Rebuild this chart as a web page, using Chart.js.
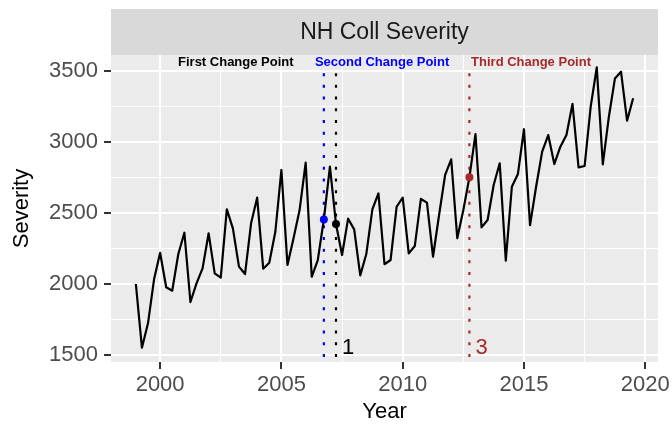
<!DOCTYPE html>
<html>
<head>
<meta charset="utf-8">
<script src="https://cdn.jsdelivr.net/npm/chart.js@4/dist/chart.umd.min.js"></script>
<style>
  html, body { margin: 0; padding: 0; background: #ffffff; }
  #wrap { width: 672px; height: 426px; position: relative; }
</style>
</head>
<body>
<div id="wrap"><canvas id="severityChart"></canvas></div>
<script>
// NH Coll Severity - quarterly series with change points

// severity, one value per quarter starting 1999 Q1
const severity = [
  2000, 1551, 1723, 2033, 2220, 1977, 1953, 2211, 2361, 1873,
  2005, 2110, 2357, 2075, 2045, 2526, 2392, 2122, 2070, 2427,
  2608, 2108, 2150, 2368, 2803, 2134, 2322, 2521, 2855, 2051,
  2169, 2455, 2826, 2423, 2204, 2460, 2385, 2061, 2211, 2526,
  2638, 2139, 2169, 2544, 2608, 2216, 2268, 2599, 2573, 2192,
  2486, 2768, 2878, 2322, 2521, 2751, 3056, 2399, 2451, 2697,
  2850, 2164, 2685, 2775, 3090, 2415, 2685, 2932, 3049, 2845,
  2967, 3049, 3268, 2821, 2831, 3249, 3526, 2843, 3178, 3448,
  3495, 3150, 3308
];
const startYear = 1999;
const quarters = severity.map((_, i) => startYear + i * 0.25);

// change points
const cpYears = [2007.25, 2006.75, 2012.75];
const cpNames = ['First Change Point', 'Second Change Point', 'Third Change Point'];
const cpTags = ['1', '', '3'];
const cpColors = ['#000000', '#0000FF', '#A52A2A'];
const cpNameX = [2003.12, 2009.15, 2015.29];
const cpNameY = 3563;
const cpTagY = 1549;
const cpLineTop = 3485;

// axes
const xTicks = [2000, 2002.5, 2005, 2007.5, 2010, 2012.5, 2015, 2017.5, 2020];
const yTicks = [1500, 1750, 2000, 2250, 2500, 2750, 3000, 3250, 3500];
const xMin = 1997.975, xMax = 2020.525;
const yMin = 1450.7, yMax = 3612.7;

const FONT = '"Liberation Sans", Arial, Helvetica, sans-serif';

const seriesPoints = quarters.map((q, i) => ({ x: q, y: severity[i] }));
const cpPoints = cpYears.map(cp => ({ x: cp, y: severity[quarters.indexOf(cp)] }));

// dotted verticals, drawn from the top down
const vlineSets = cpYears.map((cp, i) => ({
    label: cpNames[i],
    data: [{ x: cp, y: cpLineTop }, { x: cp, y: yMin }],
    borderColor: cpColors[i],
    borderWidth: 2.2,
    borderDash: [3, 8.7],
    borderCapStyle: 'butt',
    pointRadius: 0,
    fill: false
}));

// panel background + facet strip
const panelPlugin = {
    id: 'panel',
    beforeDraw(chart) {
        const { ctx, chartArea: a } = chart;
        ctx.save();
        ctx.fillStyle = '#EBEBEB';
        ctx.fillRect(a.left, a.top, a.right - a.left, a.bottom - a.top);
        ctx.fillStyle = '#D9D9D9';
        ctx.fillRect(a.left, 9, a.right - a.left, a.top - 9);
        ctx.fillStyle = '#1A1A1A';
        ctx.font = '23px ' + FONT;
        ctx.textAlign = 'center';
        ctx.textBaseline = 'middle';
        ctx.fillText('NH Coll Severity', (a.left + a.right) / 2, (9 + a.top) / 2 + 1);
        ctx.restore();
    }
};

// change point names and tags
const textPlugin = {
    id: 'cpText',
    afterDatasetsDraw(chart) {
        const { ctx, scales: { x, y } } = chart;
        ctx.save();
        ctx.textBaseline = 'middle';
        cpYears.forEach((cp, i) => {
            ctx.fillStyle = cpColors[i];
            ctx.font = 'bold 13px ' + FONT;
            ctx.textAlign = 'center';
            ctx.fillText(cpNames[i], x.getPixelForValue(cpNameX[i]), y.getPixelForValue(cpNameY));
            if (cpTags[i]) {
                ctx.font = '22px ' + FONT;
                ctx.textAlign = 'left';
                ctx.fillText(cpTags[i], x.getPixelForValue(cp) + 6, y.getPixelForValue(cpTagY));
            }
        });
        ctx.restore();
    }
};

function isMajor(value, step) {
    return Math.abs(value / step - Math.round(value / step)) < 1e-6;
}

new Chart(document.getElementById('severityChart'), {
    type: 'line',
    data: {
        datasets: [{
            label: 'Change points',
            data: cpPoints,
            showLine: false,
            pointRadius: 4,
            pointBackgroundColor: cpColors,
            pointBorderColor: cpColors,
            pointBorderWidth: 0
        }, {
            label: 'Severity',
            data: seriesPoints,
            borderColor: '#000000',
            borderWidth: 2.2,
            borderJoinStyle: 'round',
            pointRadius: 0,
            tension: 0,
            fill: false
        }].concat(vlineSets)
    },
    options: {
        responsive: true,
        maintainAspectRatio: false,
        animation: false,
        layout: { padding: { top: 55, right: 14, left: 0, bottom: 0 } },
        plugins: {
            legend: { display: false },
            tooltip: { enabled: false }
        },
        scales: {
            x: {
                type: 'linear',
                min: xMin,
                max: xMax,
                afterBuildTicks: scale => { scale.ticks = xTicks.map(v => ({ value: v })); },
                afterFit: scale => {
                    scale.height = 64;
                    scale.paddingLeft = 0;
                    scale.paddingRight = 0;
                },
                border: { display: false },
                grid: {
                    color: '#FFFFFF',
                    lineWidth: c => isMajor(c.tick.value, 5) ? 2 : 1,
                    tickColor: c => isMajor(c.tick.value, 5) ? '#333333' : 'rgba(0,0,0,0)',
                    tickWidth: 2,
                    tickLength: 7
                },
                ticks: {
                    autoSkip: false,
                    maxRotation: 0,
                    padding: 3,
                    color: '#4D4D4D',
                    font: { family: FONT, size: 22 },
                    callback: v => isMajor(v, 5) ? String(v) : ''
                },
                title: {
                    display: true,
                    text: 'Year',
                    color: '#000000',
                    font: { family: FONT, size: 22 },
                    padding: { top: 0, bottom: 1 }
                }
            },
            y: {
                type: 'linear',
                min: yMin,
                max: yMax,
                afterBuildTicks: scale => { scale.ticks = yTicks.map(v => ({ value: v })); },
                afterFit: scale => {
                    scale.width = 111;
                    scale.paddingTop = 0;
                    scale.paddingBottom = 0;
                },
                border: { display: false },
                grid: {
                    color: '#FFFFFF',
                    lineWidth: c => isMajor(c.tick.value, 500) ? 2 : 1,
                    tickColor: c => isMajor(c.tick.value, 500) ? '#333333' : 'rgba(0,0,0,0)',
                    tickWidth: 2,
                    tickLength: 7
                },
                ticks: {
                    autoSkip: false,
                    padding: 6,
                    color: '#4D4D4D',
                    font: { family: FONT, size: 22 },
                    callback: v => isMajor(v, 500) ? String(v) : ''
                },
                title: {
                    display: true,
                    text: 'Severity',
                    color: '#000000',
                    font: { family: FONT, size: 22 },
                    padding: { top: 9, bottom: 0 }
                }
            }
        }
    },
    plugins: [panelPlugin, textPlugin]
});
</script>
</body>
</html>
